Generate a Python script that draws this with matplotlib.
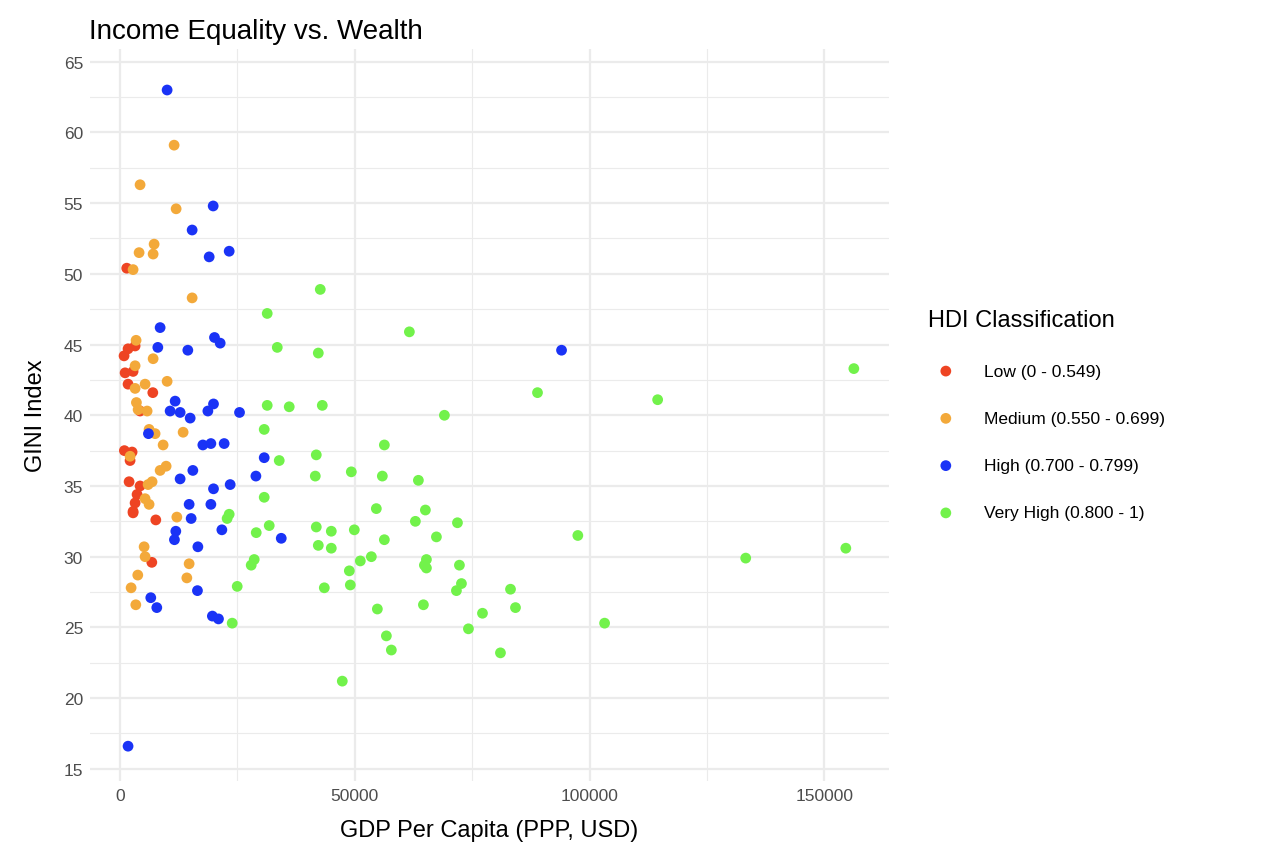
import numpy as np
import matplotlib.pyplot as plt
from matplotlib.ticker import MultipleLocator

# GDP per capita (USD) and GINI index, by HDI class
low_gdp = [1420, 850, 1700, 3200, 1070, 2770, 1700, 6970, 4260, 920, 2560, 2130,
           1920, 4260, 3620, 3200, 2770, 2770, 7610, 6760]
low_gini = [50.4, 44.2, 44.7, 44.9, 43.0, 43.1, 42.2, 41.6, 40.3, 37.5, 37.4, 36.8,
            35.3, 35.0, 34.4, 33.8, 33.2, 33.1, 32.6, 29.6]

med_gdp = [11510, 4260, 11940, 7250, 4050, 7040, 2770, 15350, 3410, 7040, 3200, 10020,
           3200, 5330, 3480, 3840, 5760, 6180, 7460, 13430, 9170, 2130, 9810, 8530,
           6820, 5970, 5330, 6180, 12090, 5120, 5330, 3770, 2350, 3350, 14710, 14220]
med_gini = [59.1, 56.3, 54.6, 52.1, 51.5, 51.4, 50.3, 48.3, 45.3, 44.0, 43.5, 42.4,
            41.9, 42.2, 40.9, 40.4, 40.3, 39.0, 38.7, 38.8, 37.9, 37.1, 36.4, 36.1,
            35.3, 35.1, 34.1, 33.7, 32.8, 30.7, 30.0, 28.7, 27.8, 26.6, 29.5, 28.5]

high_gdp = [10020, 19830, 15350, 18980, 23240, 8530, 8040, 14430, 20110, 21320, 94030,
            11730, 10660, 12790, 14930, 18700, 19900, 25440, 6040, 17630, 19340, 22170,
            30700, 15500, 12790, 28930, 23450, 19900, 14710, 19340, 15140, 21680, 11870,
            11580, 16570, 34330, 16480, 6540, 7820, 19660, 20960, 1700]
high_gini = [63.0, 54.8, 53.1, 51.2, 51.6, 46.2, 44.8, 44.6, 45.5, 45.1, 44.6,
             41.0, 40.3, 40.2, 39.8, 40.3, 40.8, 40.2, 38.7, 37.9, 38.0, 38.0,
             37.0, 36.1, 35.5, 35.7, 35.1, 34.8, 33.7, 33.7, 32.7, 31.9, 31.8,
             31.2, 30.7, 31.3, 27.6, 27.1, 26.4, 25.8, 25.6, 16.6]

vhigh_gdp = [42640, 31340, 61620, 33480, 42220, 156290, 114500, 88910, 31340, 43070,
             36030, 69080, 30700, 56290, 41790, 33900, 49250, 55860, 41580, 63540,
             54580, 30700, 65030, 23240, 22800, 41790, 31770, 62900, 71860, 49890,
             44990, 56290, 67380, 97500, 29000, 53520, 51170, 65250, 28570, 27930,
             64820, 72280, 65250, 44990, 42220, 48830, 133260, 154580, 24950, 43500,
             49040, 72710, 71640, 83160, 77190, 84220, 54800, 64610, 74200, 103200,
             23880, 56720, 57780, 81020, 47330]
vhigh_gini = [48.9, 47.2, 45.9, 44.8, 44.4, 43.3, 41.1, 41.6, 40.7, 40.7,
              40.6, 40.0, 39.0, 37.9, 37.2, 36.8, 36.0, 35.7, 35.7, 35.4,
              33.4, 34.2, 33.3, 33.0, 32.7, 32.1, 32.2, 32.5, 32.4, 31.9,
              31.8, 31.2, 31.4, 31.5, 31.7, 30.0, 29.7, 29.8, 29.8, 29.4,
              29.4, 29.4, 29.2, 30.6, 30.8, 29.0, 29.9, 30.6, 27.9, 27.8,
              28.0, 28.1, 27.6, 27.7, 26.0, 26.4, 26.3, 26.6, 24.9, 25.3,
              25.3, 24.4, 23.4, 23.2, 21.2]

groups = [
    ("Low (0 - 0.549)", low_gdp, low_gini, "#EE4423"),
    ("Medium (0.550 - 0.699)", med_gdp, med_gini, "#F3A93A"),
    ("High (0.700 - 0.799)", high_gdp, high_gini, "#1A33F6"),
    ("Very High (0.800 - 1)", vhigh_gdp, vhigh_gini, "#72F24B"),
]

plt.rcParams['font.family'] = ['Liberation Sans', 'DejaVu Sans']
fig = plt.figure(figsize=(12.68, 8.62), dpi=100)
ax = fig.add_axes([0.071, 0.093, 0.63, 0.849])

for label, x, y, c in groups:
    ax.scatter(x, y, s=60, color=c, label=label, edgecolors='none', zorder=3)

ax.set_xlim(-6400, 163750)
ax.set_ylim(14.15, 65.9)
ax.xaxis.set_major_locator(MultipleLocator(50000))
ax.xaxis.set_minor_locator(MultipleLocator(25000))
ax.yaxis.set_major_locator(MultipleLocator(5))
ax.yaxis.set_minor_locator(MultipleLocator(2.5))
ax.grid(which='major', color='#EBEBEB', linewidth=1.6)
ax.grid(which='minor', color='#EBEBEB', linewidth=0.8)
ax.set_axisbelow(True)
for s in ax.spines.values():
    s.set_visible(False)
ax.tick_params(which='both', length=0, labelsize=12.5, labelcolor='#4D4D4D', pad=5)

ax.set_xlabel("GDP Per Capita (PPP, USD)", fontsize=17, labelpad=12)
ax.set_ylabel("GINI Index", fontsize=17, labelpad=12)
fig.text(0.07, 0.955, "Income Equality vs. Wealth", fontsize=20)

leg = ax.legend(title="HDI Classification", loc='center left', bbox_to_anchor=(1.03, 0.5),
                frameon=False, fontsize=12.5, title_fontsize=17, markerscale=1.0,
                handletextpad=1.2, labelspacing=1.85)
leg._legend_box.align = "left"

fig.savefig("out.png", dpi=100)
